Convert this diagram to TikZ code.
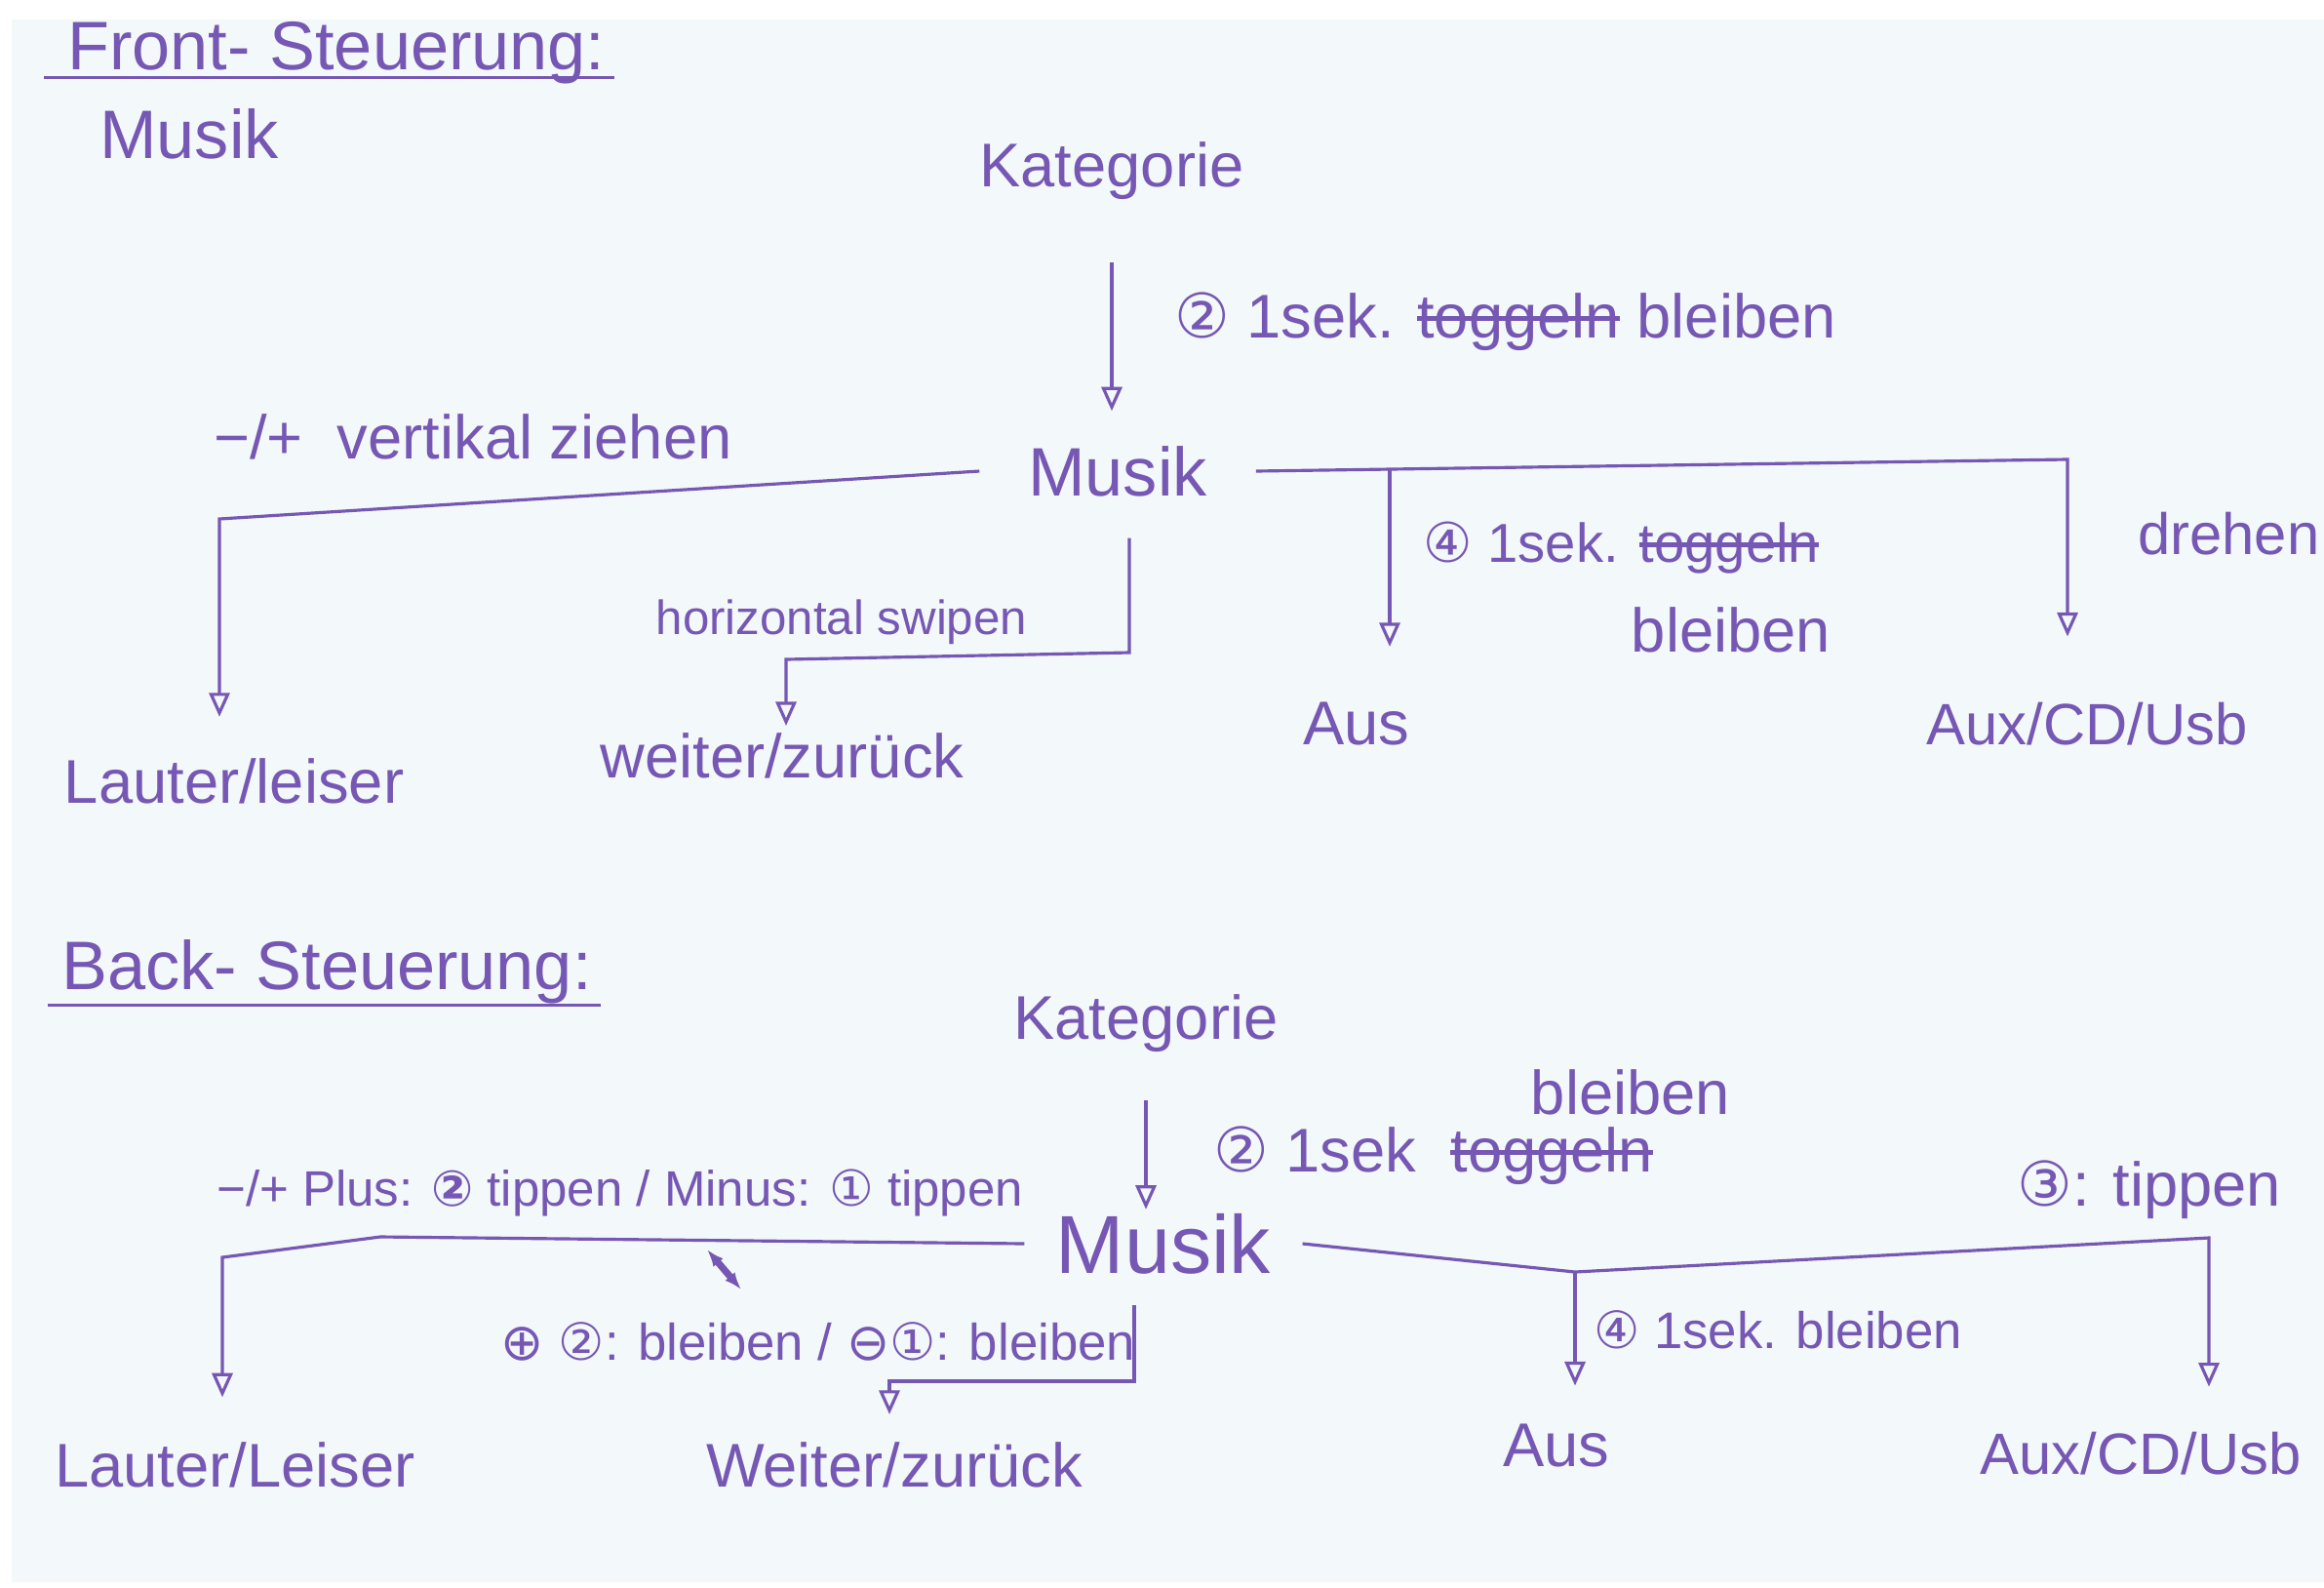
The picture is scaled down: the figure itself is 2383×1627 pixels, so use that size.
\documentclass[tikz,border=0pt]{standalone}
\usepackage{fontspec}
\setmainfont{Liberation Sans}
\newfontfamily\circfont{DejaVu Sans}
\usetikzlibrary{arrows.meta, calc}
\definecolor{ink}{RGB}{118,88,180}
\definecolor{paper}{RGB}{243,248,250}
\newcommand{\cnum}[1]{{\circfont #1}}
\newsavebox{\strikebox}
\newcommand{\strike}[1]{\sbox{\strikebox}{#1}\rlap{\usebox{\strikebox}}\rule[0.28em]{\wd\strikebox}{1.5pt}}

\begin{document}
\begin{tikzpicture}[x=0.01cm, y=-0.01cm,
  every node/.style={text=ink, inner sep=1pt, font=\fontsize{18}{20}\selectfont},
  big/.style={font=\fontsize{20}{22}\selectfont},
  mid/.style={font=\fontsize{15}{17}\selectfont},
  small/.style={font=\fontsize{14}{16}\selectfont},
  line/.style={draw=ink, line width=0.9pt},
  arr/.style={line, -{Triangle[open, length=7pt, width=6pt]}}]

  \fill[white] (0,0) rectangle (2383,1627);
  \fill[paper] (12,20) rectangle (2383,1622);
  \useasboundingbox (0,0) rectangle (2383,1627);

  % Front-Steuerung
  \node[big] (front) at (345,54) {Front- Steuerung:};
  \draw[line] ($(front.base west)+(-20,8)$) -- ($(front.base east)+(5,8)$);
  \node[big] (musik0) at (194,137) {Musik};

  \node (kat1) at (1140,175) {Kategorie};
  \node[big, inner xsep=14pt] (musik1) at (1146,483) {Musik};
  \node (laut1) at (240,801) {Lauter/leiser};
  \node (weiter1) at (802,775) {weiter/zurück};
  \node (aus1) at (1391,742) {Aus};
  \node[font=\fontsize{17}{19}\selectfont] (aux1) at (2140,742) {Aux/CD/Usb};

  \node[anchor=west] (lbl1) at (1200,330) {\cnum{②} 1sek. \strike{toggeln} bleiben};
  \node[anchor=west] (lbl2) at (215,448) {−/+ \ vertikal ziehen};
  \node[small] (lbl3) at (863,638) {horizontal swipen};
  \node[anchor=west, font=\fontsize{16}{18}\selectfont] (lbl4) at (1455,562) {\cnum{④} 1sek. \strike{toggeln}};
  \node (lbl5) at (1775,646) {bleiben};
  \node[anchor=west, font=\fontsize{17}{19}\selectfont] (lbl6) at (2188,547) {drehen};

  \coordinate (l1) at (225,532);
  \coordinate (w1) at (1158,669);
  \coordinate (w2) at (806,676);
  \coordinate (r1) at (2120,471);
  \coordinate (b1) at (1425,482);

  \draw[arr, shorten <=17pt, shorten >=9pt] (kat1) -- (kat1 |- musik1.north);
  \draw[arr, shorten >=11pt] (musik1.west) -- (l1) -- (l1 |- laut1.north);
  \draw[arr, shorten <=11pt, shorten >=1pt] (musik1.south -| w1) -- (w1) -- (w2) -- (w2 |- weiter1.north);
  \draw[arr, shorten >=18pt] (musik1.east) -- (r1) -- (r1 |- aux1.north);
  \draw[arr, shorten >=15pt] (b1) -- (b1 |- aus1.north);

  % Back-Steuerung
  \node[big] (back) at (335,996) {Back- Steuerung:};
  \draw[line] ($(back.base west)+(-10,16)$) -- ($(back.base east)+(5,16)$);

  \node (kat2) at (1175,1049) {Kategorie};
  \node[font=\fontsize{24}{26}\selectfont, inner xsep=9pt] (musik2) at (1193,1275) {Musik};
  \node (laut2) at (241,1502) {Lauter/Leiser};
  \node (weiter2) at (917,1502) {Weiter/zurück};
  \node (aus2) at (1596,1482) {Aus};
  \node[font=\fontsize{17}{19}\selectfont] (aux2) at (2195,1490) {Aux/CD/Usb};

  \node[anchor=west, font=\fontsize{14.5}{16}\selectfont] (lbl7) at (218,1223) {−/+ Plus: {\bfseries\cnum{②}} tippen / Minus: \cnum{①} tippen};
  \node[mid] (lbl8) at (839,1375) {\cnum{⊕} \cnum{②}: bleiben / \cnum{⊖}\cnum{①}: bleiben};
  \node[anchor=west] (lbl9) at (1240,1185) {\cnum{②} 1sek \ \strike{toggeln}};
  \node (lbl10) at (1672,1120) {bleiben};
  \node (lbl11) at (2204,1220) {\cnum{③}: tippen};
  \node[anchor=west, mid] (lbl12) at (1630,1363) {\cnum{④} 1sek. bleiben};

  \coordinate (l2a) at (390,1268);
  \coordinate (l2b) at (228,1289);
  \coordinate (d2) at (1163,1416);
  \coordinate (d3) at (912,1416);
  \coordinate (r2a) at (1615,1304);
  \coordinate (r2b) at (2265,1269);
  \coordinate (s1) at (725,1281);
  \coordinate (s2) at (760,1322);

  \draw[arr, shorten <=13pt] (kat2) -- (kat2 |- musik2.north);
  \draw[arr, shorten >=12pt] (musik2.west) -- (l2a) -- (l2b) -- (l2b |- laut2.north);
  \draw[arr, shorten <=8pt, shorten >=7pt] (musik2.south -| d2) -- (d2) -- (d3) -- (d3 |- weiter2.north);
  \draw[arr, shorten >=12pt] (musik2.east) -- (r2a) -- (r2b) -- (r2b |- aux2.north);
  \draw[arr, shorten >=10pt] (r2a) -- (r2a |- aus2.north);
  \draw[line, line width=2pt, {Latex[length=5pt]}-{Latex[length=5pt]}] (s1) -- (s2);
\end{tikzpicture}
\end{document}
